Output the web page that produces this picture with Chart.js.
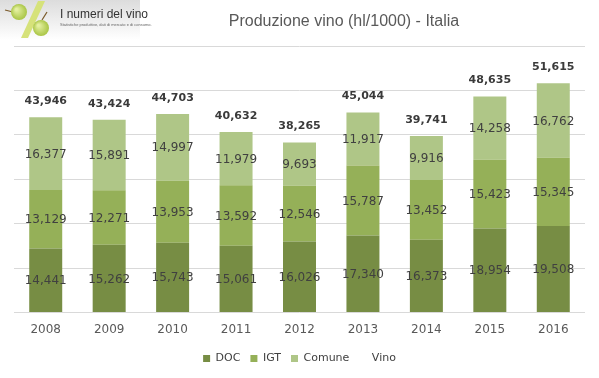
<!DOCTYPE html>
<html><head><meta charset="utf-8">
<script src="https://cdn.jsdelivr.net/npm/chart.js@4.4.0/dist/chart.umd.min.js"></script>
<style>html,body{margin:0;padding:0;background:#fff;} #wrap{position:relative;width:599px;height:378px;}</style>
</head><body><div id="wrap"><canvas id="c" width="599" height="378"></canvas></div>
<script>
const years = ['2008','2009','2010','2011','2012','2013','2014','2015','2016'];
const doc = [14441,15262,15743,15061,16026,17340,16373,18954,19508];
const igt = [13129,12271,13953,13592,12546,15787,13452,15423,15345];
const comune = [16377,15891,14997,11979,9693,11917,9916,14258,16762];
const vino = [43946,43424,44703,40632,38265,45044,39741,48635,51615];
const seriesNames = ['DOC','IGT','Comune','Vino'];
const titleText = 'Produzione vino (hl/1000) - Italia';
const logoTitle = 'I numeri del vino';
const logoSub = 'Statistiche produttive, dati di mercato e di consumo.';

const colDOC = '#778D44', colIGT = '#95B058', colCom = '#AFC687';
const fmt = v => v.toLocaleString('en-US');

const decor = {
  id: 'decor',
  beforeDraw(chart) {
    const ctx = chart.ctx;
    ctx.save();
    const g = ctx.createLinearGradient(0, 0, 0, 40);
    g.addColorStop(0, '#dcdcdc'); g.addColorStop(1, '#ffffff');
    ctx.fillStyle = g; ctx.fillRect(0, 0, 140, 40);
    ctx.fillStyle = '#d6e27a';
    ctx.beginPath(); ctx.moveTo(38, 1); ctx.lineTo(45, 1); ctx.lineTo(28, 38); ctx.lineTo(21, 38); ctx.closePath(); ctx.fill();
    ctx.strokeStyle = '#7a5a2a'; ctx.lineWidth = 1.2;
    ctx.beginPath(); ctx.moveTo(5, 10); ctx.lineTo(13, 12); ctx.stroke();
    ctx.beginPath(); ctx.moveTo(42, 20); ctx.lineTo(47, 12); ctx.stroke();
    const grape = (x, y, r) => {
      const rg = ctx.createRadialGradient(x - r/3, y - r/3, 1, x, y, r);
      rg.addColorStop(0, '#e4f0a0'); rg.addColorStop(1, '#a9c545');
      ctx.fillStyle = rg; ctx.beginPath(); ctx.arc(x, y, r, 0, Math.PI*2); ctx.fill();
    };
    grape(19, 12, 8);
    grape(41, 28, 8);
    ctx.fillStyle = '#333333';
    ctx.font = '12px "Liberation Sans Narrow", "Liberation Sans", sans-serif';
    ctx.textAlign = 'left'; ctx.textBaseline = 'middle';
    ctx.fillText(logoTitle, 60, 15);
    ctx.fillStyle = '#666666';
    ctx.font = '4px "Liberation Sans", sans-serif';
    ctx.fillText(logoSub, 60, 25);
    ctx.fillStyle = '#595959';
    ctx.font = '16px "Liberation Sans Narrow", "Liberation Sans", sans-serif';
    ctx.textAlign = 'center';
    ctx.fillText(titleText, 344, 22);
    ctx.restore();
  },
  afterDatasetsDraw(chart) {
    const ctx = chart.ctx;
    ctx.save();
    ctx.textAlign = 'center'; ctx.textBaseline = 'middle';
    ctx.fillStyle = '#404040';
    ctx.font = '12px "DejaVu Sans", sans-serif';
    for (let d = 0; d < 3; d++) {
      const meta = chart.getDatasetMeta(d);
      meta.data.forEach((el, i) => {
        ctx.fillText(fmt(chart.data.datasets[d].data[i]), el.x, (el.y + el.base) / 2 + 1);
      });
    }
    ctx.font = 'bold 11px "DejaVu Sans", sans-serif';
    ctx.fillStyle = '#3a3a3a';
    const m3 = chart.getDatasetMeta(3);
    m3.data.forEach((el, i) => {
      ctx.fillText(fmt(vino[i]), el.x, el.y - 16);
    });
    ctx.restore();
  }
};

new Chart(document.getElementById('c'), {
  type: 'bar',
  data: {
    labels: years,
    datasets: [
      { label: seriesNames[0], data: doc, backgroundColor: colDOC, stack: 's' },
      { label: seriesNames[1], data: igt, backgroundColor: colIGT, stack: 's' },
      { label: seriesNames[2], data: comune, backgroundColor: colCom, stack: 's' },
      { label: seriesNames[3], data: vino, type: 'line', showLine: false, pointRadius: 0, borderWidth: 0,
        backgroundColor: 'rgba(0,0,0,0)', borderColor: 'rgba(0,0,0,0)', stack: 'v' }
    ]
  },
  options: {
    responsive: false, animation: false, devicePixelRatio: 1,
    layout: { padding: { top: 46, left: 14, right: 14, bottom: 4 } },
    datasets: { bar: { categoryPercentage: 0.8, barPercentage: 0.65 } },
    scales: {
      x: { stacked: true, grid: { display: false }, border: { display: false },
           ticks: { color: '#595959', font: { family: 'DejaVu Sans', size: 12 }, padding: 2 },
           afterFit(scale) { scale.height += 4; } },
      y: { stacked: true, min: 0, max: 60000, grid: { color: '#d9d9d9', drawTicks: false }, border: { display: false },
           ticks: { display: false, stepSize: 10000 } }
    },
    plugins: {
      tooltip: { enabled: false },
      legend: {
        position: 'bottom',
        labels: {
          boxWidth: 7, boxHeight: 7, padding: 10, color: '#404040',
          font: { family: 'DejaVu Sans', size: 11 },
          generateLabels(chart) {
            return chart.data.datasets.map((ds, i) => ({
              text: ds.label,
              fillStyle: i < 3 ? ds.backgroundColor : 'rgba(0,0,0,0)',
              strokeStyle: 'rgba(0,0,0,0)', lineWidth: 0, hidden: false, datasetIndex: i,
              fontColor: '#404040'
            }));
          }
        }
      }
    }
  },
  plugins: [decor]
});
</script></body></html>
